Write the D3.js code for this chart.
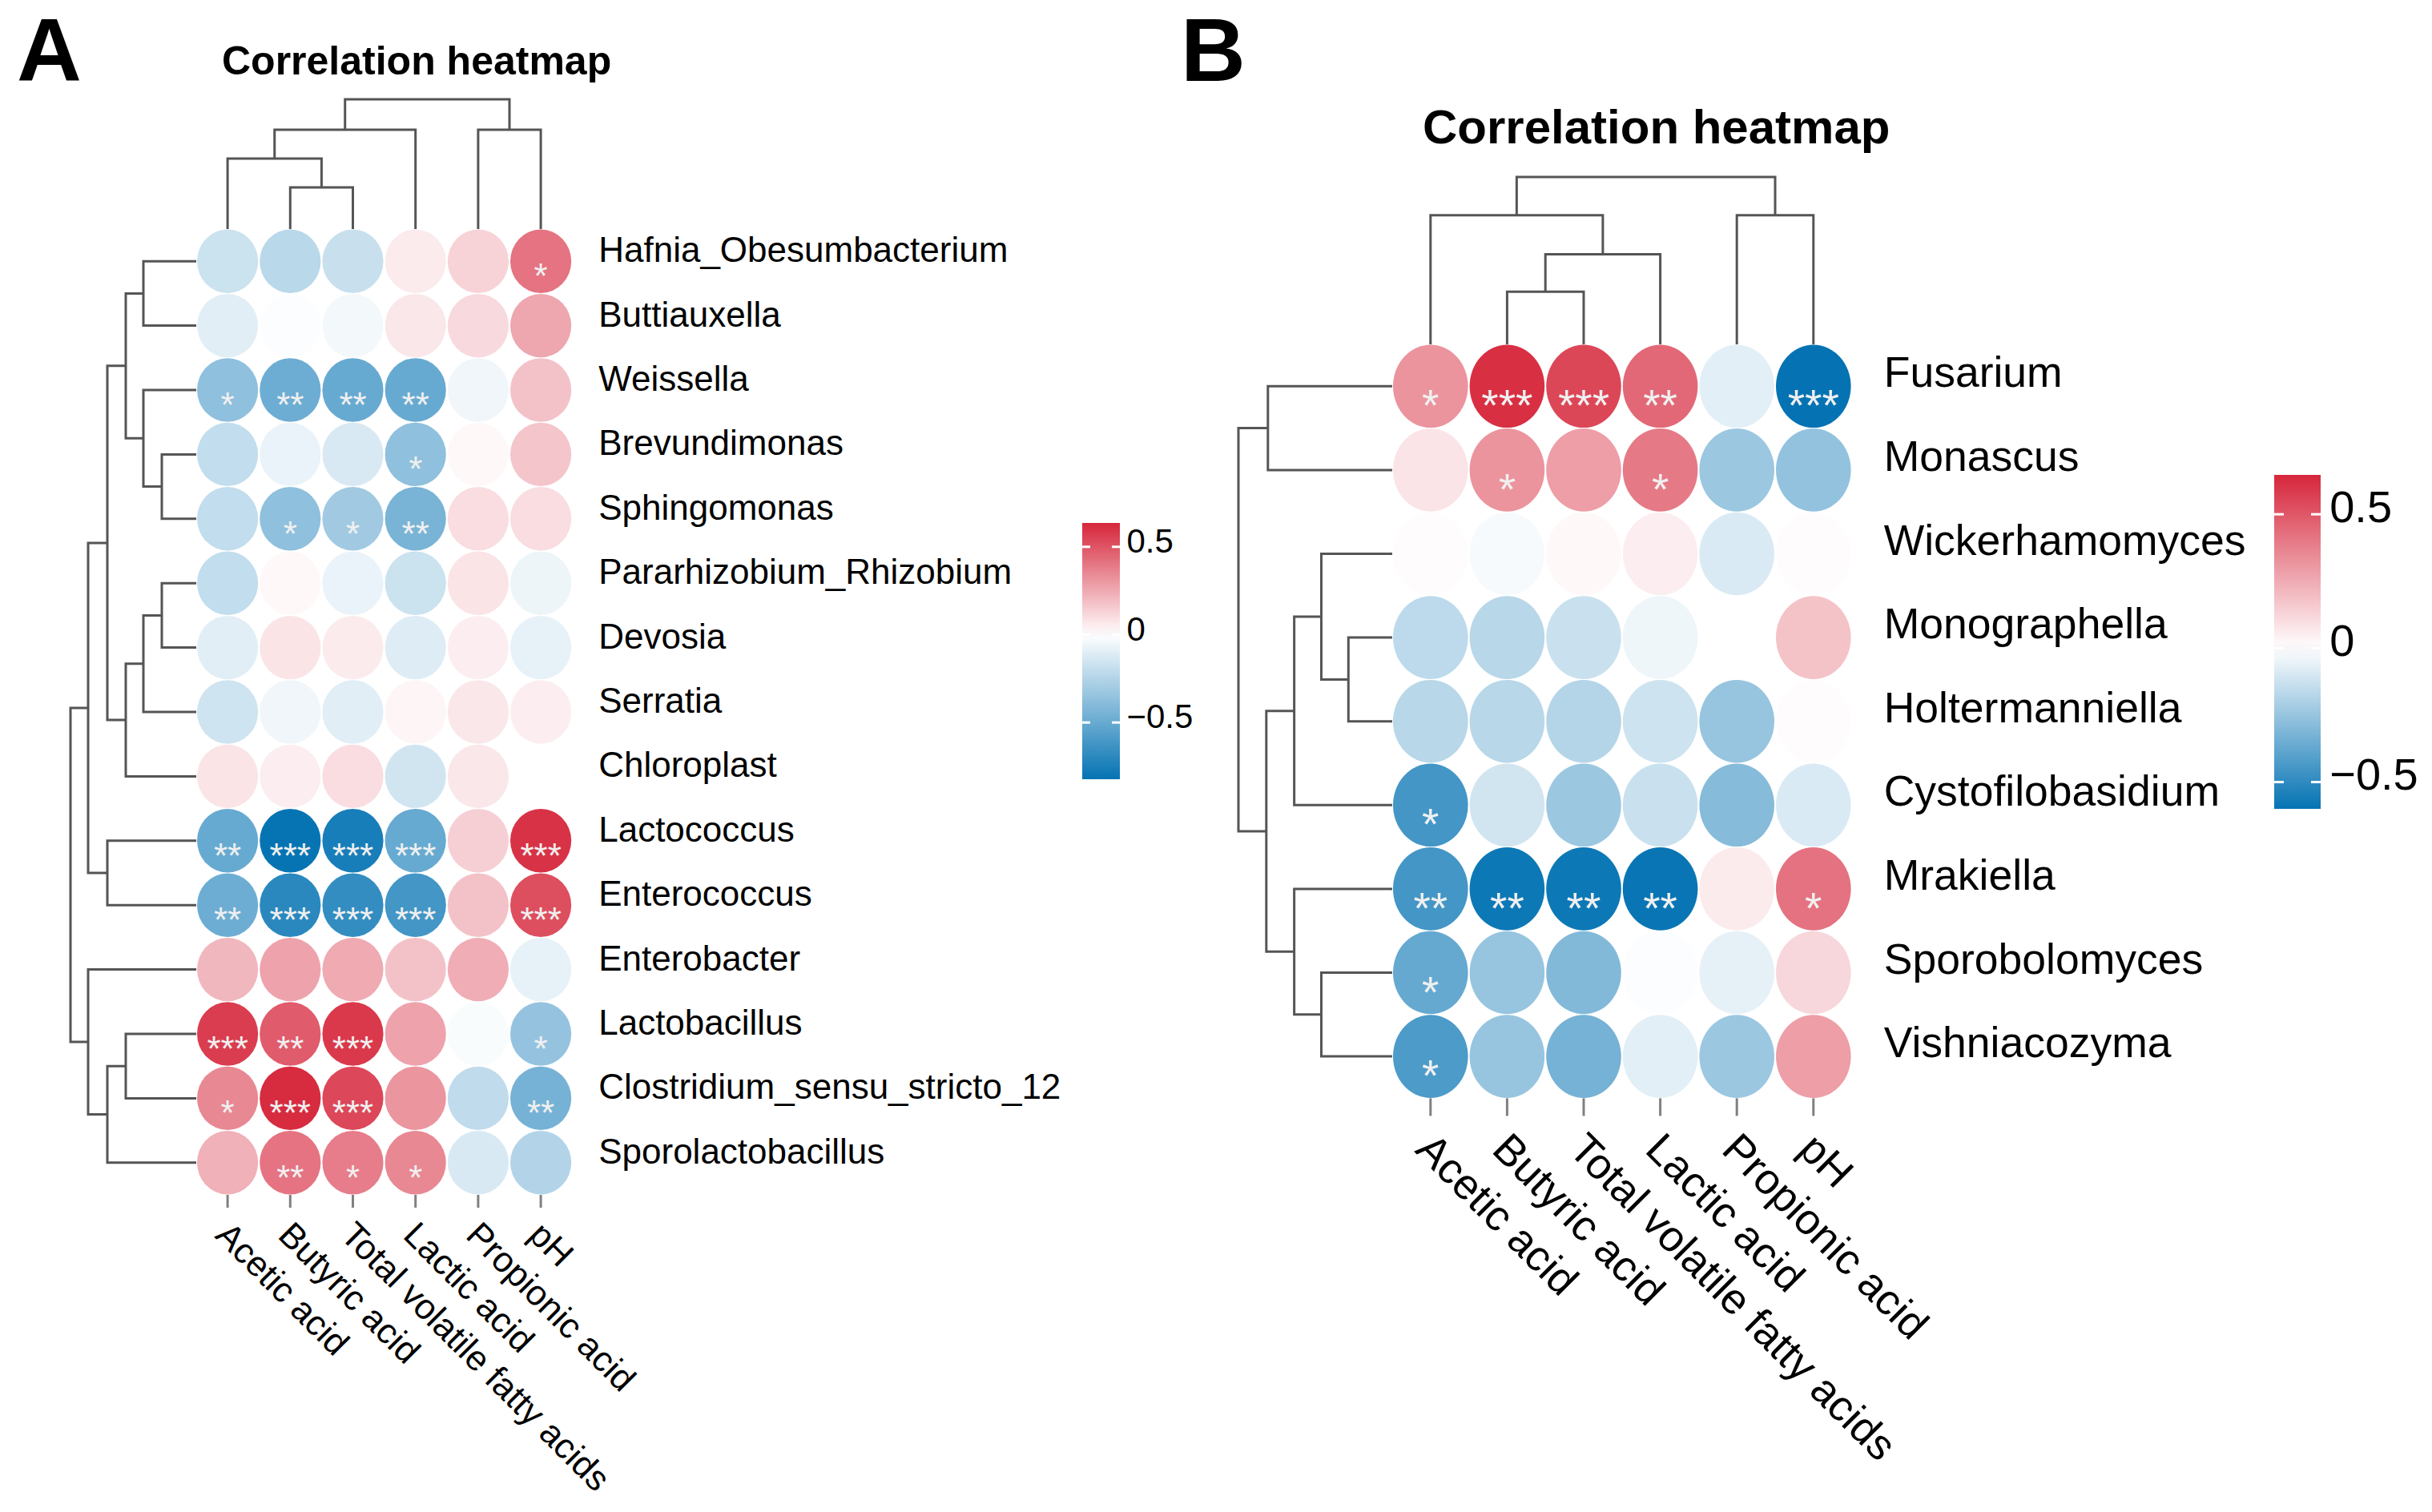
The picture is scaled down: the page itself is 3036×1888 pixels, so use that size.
<!DOCTYPE html>
<html>
<head>
<meta charset="utf-8">
<style>
  body { margin: 0; background: #fff; }
  svg { display: block; }
  text { font-family: "Liberation Sans", Arial, sans-serif; fill: #000; }
  .tag, .title { font-weight: bold; }
  .dendro { stroke: #555; stroke-width: 3; fill: none; }
  .tick { stroke: #808080; stroke-width: 3; }
  .stars { fill: #f0f0f0; text-anchor: middle; }
  .legend-tick { stroke: #fff; stroke-width: 3; }
</style>
<script src="https://cdn.jsdelivr.net/npm/d3@7"></script>
</head>
<body>
<div id="canvas"></div>
<script>

// ---------- panel A : bacteria ----------
var colNamesA = ["Acetic acid", "Butyric acid", "Total volatile fatty acids", "Lactic acid", "Propionic acid", "pH"];
var rowNamesA = ["Hafnia_Obesumbacterium", "Buttiauxella", "Weissella", "Brevundimonas", "Sphingomonas",
                 "Pararhizobium_Rhizobium", "Devosia", "Serratia", "Chloroplast", "Lactococcus",
                 "Enterococcus", "Enterobacter", "Lactobacillus", "Clostridium_sensu_stricto_12", "Sporolactobacillus"];
var valuesA = [
  [-0.17, -0.23, -0.18,  0.06,  0.13,  0.41],
  [-0.10, -0.01, -0.04,  0.07,  0.11,  0.26],
  [-0.37, -0.48, -0.50, -0.50, -0.05,  0.18],
  [-0.20, -0.07, -0.13, -0.37,  0.02,  0.17],
  [-0.20, -0.37, -0.31, -0.44,  0.10,  0.10],
  [-0.20,  0.02, -0.07, -0.17,  0.08, -0.06],
  [-0.10,  0.08,  0.06, -0.11,  0.05, -0.08],
  [-0.16, -0.05, -0.10,  0.03,  0.07,  0.05],
  [ 0.08,  0.05,  0.10, -0.15,  0.07,  0.00],
  [-0.50, -0.82, -0.76, -0.50,  0.14,  0.60],
  [-0.48, -0.70, -0.67, -0.62,  0.18,  0.52],
  [ 0.21,  0.27,  0.25,  0.18,  0.24, -0.08],
  [ 0.57,  0.48,  0.58,  0.27, -0.02, -0.35],
  [ 0.35,  0.62,  0.54,  0.31, -0.21, -0.45],
  [ 0.23,  0.41,  0.38,  0.35, -0.13, -0.25]
];
var starsA = [
  ["", "", "", "", "", "*"],
  ["", "", "", "", "", ""],
  ["*", "**", "**", "**", "", ""],
  ["", "", "", "*", "", ""],
  ["", "*", "*", "**", "", ""],
  ["", "", "", "", "", ""],
  ["", "", "", "", "", ""],
  ["", "", "", "", "", ""],
  ["", "", "", "", "", ""],
  ["**", "***", "***", "***", "", "***"],
  ["**", "***", "***", "***", "", "***"],
  ["", "", "", "", "", ""],
  ["***", "**", "***", "", "", "*"],
  ["*", "***", "***", "", "", "**"],
  ["", "**", "*", "*", "", ""]
];
var rangeA = [-0.823, 0.636];
// dendrograms: [height, left, right], leaves are indexes
var rowTreeA = [1.57,
  [1.35,
    [1.11,
      [0.88, [0.66, 0, 1], [0.66, 2, [0.43, 3, 4]]],
      [0.88, [0.66, [0.43, 5, 6], 7], 8]],
    [1.11, 9, 10]],
  [1.35, 11, [1.11, [0.88, 12, 13], 14]]];
var colTreeA = [1.62, [1.24, [0.88, 0, [0.52, 1, 2]], 3], [1.24, 4, 5]];

// ---------- panel B : fungi ----------
var colNamesB = ["Acetic acid", "Butyric acid", "Total volatile fatty acids", "Lactic acid", "Propionic acid", "pH"];
var rowNamesB = ["Fusarium", "Monascus", "Wickerhamomyces", "Monographella", "Holtermanniella",
                 "Cystofilobasidium", "Mrakiella", "Sporobolomyces", "Vishniacozyma"];
var valuesB = [
  [ 0.32,  0.62,  0.55,  0.45, -0.07, -0.60],
  [ 0.08,  0.32,  0.29,  0.40, -0.24, -0.26],
  [ 0.01, -0.02,  0.02,  0.05, -0.09,  0.01],
  [-0.16, -0.17, -0.13, -0.04,  0.00,  0.18],
  [-0.17, -0.17, -0.18, -0.12, -0.25,  0.01],
  [-0.45, -0.11, -0.24, -0.13, -0.29, -0.09],
  [-0.45, -0.58, -0.58, -0.59,  0.06,  0.42],
  [-0.37, -0.25, -0.30, -0.01, -0.06,  0.12],
  [-0.43, -0.25, -0.33, -0.07, -0.24,  0.29]
];
var starsB = [
  ["*", "***", "***", "**", "", "***"],
  ["", "*", "", "*", "", ""],
  ["", "", "", "", "", ""],
  ["", "", "", "", "", ""],
  ["", "", "", "", "", ""],
  ["*", "", "", "", "", ""],
  ["**", "**", "**", "**", "", "*"],
  ["*", "", "", "", "", ""],
  ["*", "", "", "", "", ""]
];
var rangeB = [-0.60, 0.647];
var rowTreeB = [1.93, [1.56, 0, 1],
  [1.58, [1.23, [0.89, 2, [0.55, 3, 4]], 5], [1.23, 6, [0.89, 7, 8]]]];
var colTreeB = [2.10, [1.62, 0, [1.13, [0.66, 1, 2], 3]], [1.62, 4, 5]];

var legendTicks = [-0.5, 0, 0.5];
var blue = "#0573B3", red = "#D6263B";

var panels = [
  { tag: "A", title: "Correlation heatmap", rows: rowNamesA, cols: colNamesA, values: valuesA, stars: starsA,
    range: rangeA, rowTree: rowTreeA, colTree: colTreeA,
    left: 245, top: 286, cellW: 78.2, cellH: 80.4, fs: 44, starFs: 44, starDy: 34, tickLen: 16,
    rowTreeEnd: 88, colTreeEnd: 124, tagX: 21, tagY: 101, titleX: 277, titleY: 93, titleFs: 50,
    legX: 1351, legW: 47, legTop: 653, legBottom: 973, legFs: 42, legTickLen: 10 },
  { tag: "B", title: "Correlation heatmap", rows: rowNamesB, cols: colNamesB, values: valuesB, stars: starsB,
    range: rangeB, rowTree: rowTreeB, colTree: colTreeB,
    left: 1738, top: 430, cellW: 95.6, cellH: 104.6, fs: 53.5, starFs: 55, starDy: 43, tickLen: 22,
    rowTreeEnd: 1546, colTreeEnd: 221, tagX: 1474, tagY: 101, titleX: 1776, titleY: 179, titleFs: 60,
    legX: 2839, legW: 58, legTop: 593, legBottom: 1010, legFs: 56, legTickLen: 12 }
];

var svg = d3.select("#canvas").append("svg").attr("width", 3036).attr("height", 1888);
var defs = svg.append("defs");
var fmt = d3.format("~g");

function treeMax(node) { return typeof node === "number" ? 0 : node[0]; }

// draws the elbow dendrogram, returns position and height of node
function drawTree(g, node, posOf, hScale, rowWise) {
    if (typeof node === "number") return { p: posOf(node), h: 0 };
    var a = drawTree(g, node[1], posOf, hScale, rowWise);
    var b = drawTree(g, node[2], posOf, hScale, rowWise);
    var h = node[0];
    var d = rowWise
        ? "M" + hScale(a.h) + "," + a.p + "H" + hScale(h) + "V" + b.p + "H" + hScale(b.h)
        : "M" + a.p + "," + hScale(a.h) + "V" + hScale(h) + "H" + b.p + "V" + hScale(b.h);
    g.append("path").attr("class", "dendro").attr("d", d);
    return { p: (a.p + b.p) / 2, h: h };
}

panels.forEach(function(P, pi) {
    var g = svg.append("g");
    var right = P.left + P.cellW * P.cols.length;
    var bottom = P.top + P.cellH * P.rows.length;

    var x = d3.scaleBand().domain(d3.range(P.cols.length)).range([P.left, right]);
    var y = d3.scaleBand().domain(d3.range(P.rows.length)).range([P.top, bottom]);
    var color = d3.scaleLinear().domain([P.range[0], 0, P.range[1]])
                  .range([blue, "#ffffff", red]).interpolate(d3.interpolateRgb).clamp(true);

    var cx = function(j) { return x(j) + x.bandwidth() / 2; };
    var cy = function(i) { return y(i) + y.bandwidth() / 2; };

    // panel letter and title
    g.append("text").attr("class", "tag").attr("x", P.tagX).attr("y", P.tagY)
     .attr("font-size", 112).text(P.tag);
    g.append("text").attr("class", "title").attr("x", P.titleX).attr("y", P.titleY)
     .attr("font-size", P.titleFs).text(P.title);

    // dendrograms
    var rowH = d3.scaleLinear().domain([0, treeMax(P.rowTree)]).range([P.left, P.rowTreeEnd]);
    drawTree(g.append("g"), P.rowTree, cy, rowH, true);
    var colH = d3.scaleLinear().domain([0, treeMax(P.colTree)]).range([P.top, P.colTreeEnd]);
    drawTree(g.append("g"), P.colTree, cx, colH, false);

    // cells
    var cells = [];
    P.values.forEach(function(row, i) {
        row.forEach(function(v, j) { cells.push({ i: i, j: j, v: v, s: P.stars[i][j] }); });
    });
    g.append("g").selectAll("ellipse").data(cells).enter().append("ellipse")
     .attr("cx", function(d) { return cx(d.j); })
     .attr("cy", function(d) { return cy(d.i); })
     .attr("rx", x.bandwidth() / 2 - 1)
     .attr("ry", y.bandwidth() / 2 - 0.5)
     .attr("fill", function(d) { return color(d.v); });

    g.append("g").selectAll("text").data(cells.filter(function(d) { return d.s; })).enter().append("text")
     .attr("class", "stars")
     .attr("x", function(d) { return cx(d.j); })
     .attr("y", function(d) { return cy(d.i) + P.starDy; })
     .attr("font-size", P.starFs)
     .text(function(d) { return d.s; });

    // row labels
    g.append("g").selectAll("text").data(P.rows).enter().append("text")
     .attr("x", right + P.fs * 0.75)
     .attr("y", function(d, i) { return cy(i) + 1; })
     .attr("font-size", P.fs)
     .text(function(d) { return d; });

    // column ticks and rotated labels
    var tickEnd = bottom + P.tickLen;
    g.append("g").selectAll("line").data(P.cols).enter().append("line")
     .attr("class", "tick")
     .attr("x1", function(d, j) { return cx(j); }).attr("x2", function(d, j) { return cx(j); })
     .attr("y1", bottom).attr("y2", tickEnd);
    g.append("g").selectAll("text").data(P.cols).enter().append("text")
     .attr("transform", function(d, j) {
         return "translate(" + (cx(j) - 0.39 * P.fs) + "," + (tickEnd + 0.83 * P.fs) + ") rotate(45)";
     })
     .attr("font-size", P.fs)
     .text(function(d) { return d; });

    // colour legend
    var ly = d3.scaleLinear().domain(P.range).range([P.legBottom, P.legTop]);
    var grad = defs.append("linearGradient").attr("id", "grad" + pi)
                   .attr("x1", 0).attr("y1", 1).attr("x2", 0).attr("y2", 0);
    d3.range(0, 1.0001, 0.05).forEach(function(t) {
        grad.append("stop").attr("offset", t)
            .attr("stop-color", color(P.range[0] + t * (P.range[1] - P.range[0])));
    });
    var leg = g.append("g");
    leg.append("rect").attr("x", P.legX).attr("y", P.legTop)
       .attr("width", P.legW).attr("height", P.legBottom - P.legTop)
       .attr("fill", "url(#grad" + pi + ")");
    legendTicks.forEach(function(t) {
        leg.append("line").attr("class", "legend-tick")
           .attr("x1", P.legX).attr("x2", P.legX + P.legTickLen).attr("y1", ly(t)).attr("y2", ly(t));
        leg.append("line").attr("class", "legend-tick")
           .attr("x1", P.legX + P.legW - P.legTickLen).attr("x2", P.legX + P.legW).attr("y1", ly(t)).attr("y2", ly(t));
        leg.append("text").attr("x", P.legX + P.legW + 0.2 * P.legFs)
           .attr("y", ly(t) + 0.17 * P.legFs)
           .attr("font-size", P.legFs)
           .text(fmt(t));
    });
});

</script>
</body>
</html>
